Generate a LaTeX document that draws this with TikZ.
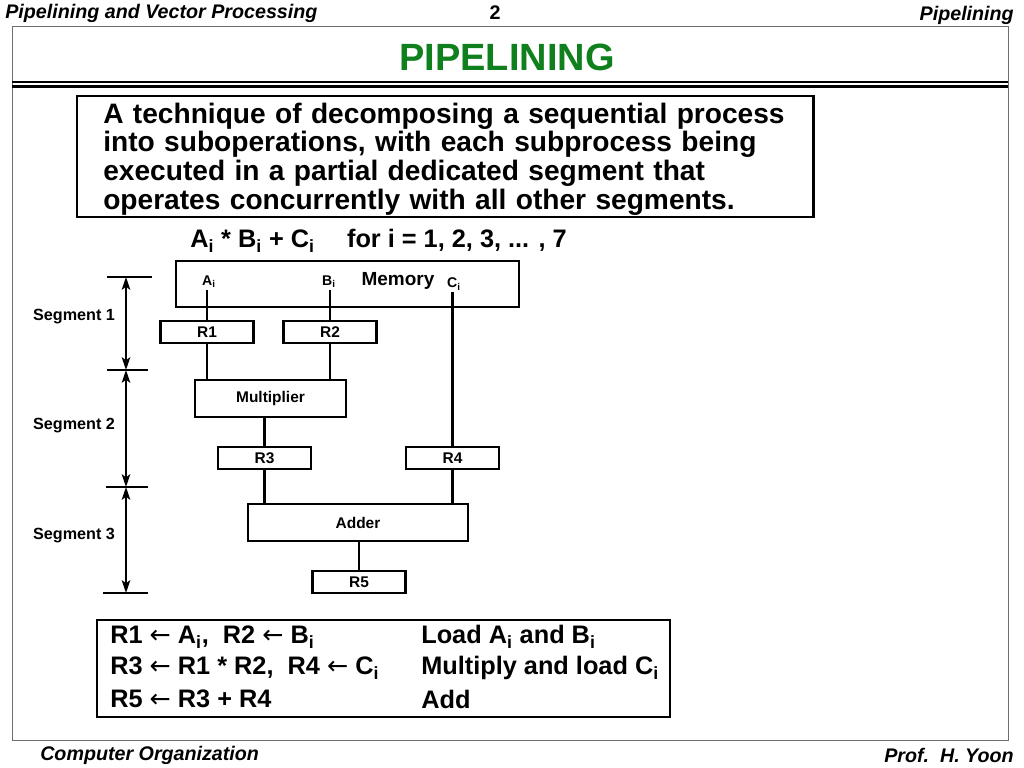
\documentclass[tikz,border=0pt]{standalone}
\usepackage{fontspec}
\setmainfont{Liberation Sans}
\newfontfamily\arrowfont{DejaVu Sans}
\usepackage{tikz}
\usetikzlibrary{arrows.meta, positioning}
\definecolor{titlegreen}{RGB}{16,128,30}
\definecolor{framegray}{RGB}{110,110,110}
\tikzset{
  regbox/.style={rectangle, draw, line width=1.8pt, minimum width=2.33cm,
    minimum height=0.55cm, inner sep=0pt, font=\fontsize{11}{13}\selectfont\bfseries},
  unitbox/.style={rectangle, draw, line width=1.8pt, minimum height=0.93cm,
    inner sep=0pt, font=\fontsize{11}{13}\selectfont\bfseries},
  bigbox/.style={rectangle, draw, line width=2pt, inner sep=0pt},
  portlabel/.style={inner sep=1pt, font=\fontsize{10}{12}\selectfont\bfseries},
  wire/.style={line width=2pt},
  tick/.style={line width=1.8pt},
  segarrow/.style={{Stealth[length=9pt,width=6pt,inset=2pt]}-{Stealth[length=9pt,width=6pt,inset=2pt]}, line width=1.5pt},
  seglabel/.style={font=\fontsize{11.5}{13}\selectfont\bfseries},
  hdrtext/.style={inner sep=0pt, font=\fontsize{14}{16}\selectfont\bfseries\itshape},
  bodytext/.style={inner sep=0pt, anchor=west, font=\fontsize{18}{20}\selectfont\bfseries}
}
\newcommand{\sub}[1]{\textsubscript{#1}}
\newcommand{\getsarrow}{{\arrowfont\mdseries ←}}

\begin{document}
\begin{tikzpicture}[x=0.025cm, y=-0.025cm]
  \useasboundingbox (0,0) rectangle (1024,768);
  % page frame and header
  \draw[framegray, line width=0.6pt] (12,26) rectangle (1008,740);
  \draw[line width=0.8pt] (12,82) -- (1008,82);
  \draw[line width=2.6pt] (12,86.5) -- (1008,86.5);
  \node[hdrtext, anchor=west] (hdrleft) at (5,13) {Pipelining and Vector Processing};
  \node[hdrtext, font=\fontsize{14}{16}\selectfont\bfseries] (hdrnum) at (495,13) {2};
  \node[hdrtext, anchor=east] (hdrright) at (1014,15) {Pipelining};
  \node[inner sep=0pt, text=titlegreen, font=\fontsize{27}{30}\selectfont\bfseries] (title) at (507,57) {PIPELINING};
  % definition
  \node[bigbox, minimum width=18.4cm, minimum height=3.025cm] (defbox) at (445,156.5) {};
  \node[bodytext, text width=17.6cm, align=left, font=\fontsize{20}{20.3}\selectfont\bfseries] (deftext) at (103,159)
    {A technique of decomposing a sequential process\\
     into suboperations, with each subprocess being\\
     executed in a partial dedicated segment that\\
     operates concurrently with all other segments.};
  \node[bodytext] (formula) at (190,241) {A\sub{i} * B\sub{i} + C\sub{i}\quad\ for i = 1, 2, 3, ... , 7};
  % memory and registers
  \node[bigbox, minimum width=8.575cm, minimum height=1.15cm] (mem) at (347.5,284) {};
  \node[portlabel] (ai) at (209,282) {A\sub{i}};
  \node[portlabel] (bi) at (329,282) {B\sub{i}};
  \node[inner sep=0pt, font=\fontsize{13.5}{15}\selectfont\bfseries] (memlabel) at (398,281) {Memory};
  \node[portlabel] (ci) at (454,284) {C\sub{i}};
  \node[regbox] (r1) at (207,332) {R1};
  \node[regbox] (r2) at (330,332) {R2};
  \node[unitbox, minimum width=3.775cm] (mult) at (270.5,398.5) {Multiplier};
  \node[regbox] (r3) at (264.5,458) {R3};
  \node[regbox] (r4) at (452.5,458) {R4};
  \node[unitbox, minimum width=5.5cm] (adder) at (358,522.5) {Adder};
  \node[regbox] (r5) at (359,582) {R5};
  % wires
  \draw[wire] (ai.south -| r1.north) -- (r1.north);
  \draw[wire] (bi.south -| r2.north) -- (r2.north);
  \draw[wire] (ci.south -| r4.north) -- (r4.north);
  \draw[wire] (r1.south) -- (r1.south |- mult.north);
  \draw[wire] (r2.south) -- (r2.south |- mult.north);
  \draw[wire] (r3.north |- mult.south) -- (r3.north);
  \draw[wire] (r3.south) -- (r3.south |- adder.north);
  \draw[wire] (r4.south) -- (r4.south |- adder.north);
  \draw[wire] (r5.north |- adder.south) -- (r5.north);
  % segment ticks
  \coordinate (t0) at (126,277);
  \coordinate (t1) at (126,370);
  \coordinate (t2) at (126,487);
  \coordinate (t3) at (126,593);
  \draw[tick] (107,277) -- (152,277);
  \draw[tick] (107,370) -- (148,370);
  \draw[tick] (106,487) -- (148,487);
  \draw[tick] (103,593) -- (148,593);
  \draw[segarrow] (t0) -- (t1);
  \draw[segarrow] (t1) -- (t2);
  \draw[segarrow] (t2) -- (t3);
  \node[seglabel] (seg1) at (74,317) {Segment 1};
  \node[seglabel] (seg2) at (74,426) {Segment 2};
  \node[seglabel] (seg3) at (74,536) {Segment 3};
  % register transfers
  \node[bigbox, minimum width=14.325cm, minimum height=2.425cm] (rtbox) at (383.5,668.5) {};
  \node[bodytext] (rt1) at (110,637) {R1 \getsarrow\ A\sub{i},\ \ R2 \getsarrow\ B\sub{i}};
  \node[bodytext] (rt2) at (110,668) {R3 \getsarrow\ R1 * R2,\ \ R4 \getsarrow\ C\sub{i}};
  \node[bodytext] (rt3) at (110,699) {R5 \getsarrow\ R3 + R4};
  \node[bodytext] (op1) at (421,637) {Load A\sub{i} and B\sub{i}};
  \node[bodytext] (op2) at (421,668) {Multiply and load C\sub{i}};
  \node[bodytext] (op3) at (421,699) {Add};
  % footer
  \node[hdrtext, anchor=west] (footleft) at (40,755) {Computer Organization};
  \node[hdrtext, anchor=east] (footright) at (1014,755) {Prof.\ \ H. Yoon};
\end{tikzpicture}
\end{document}
